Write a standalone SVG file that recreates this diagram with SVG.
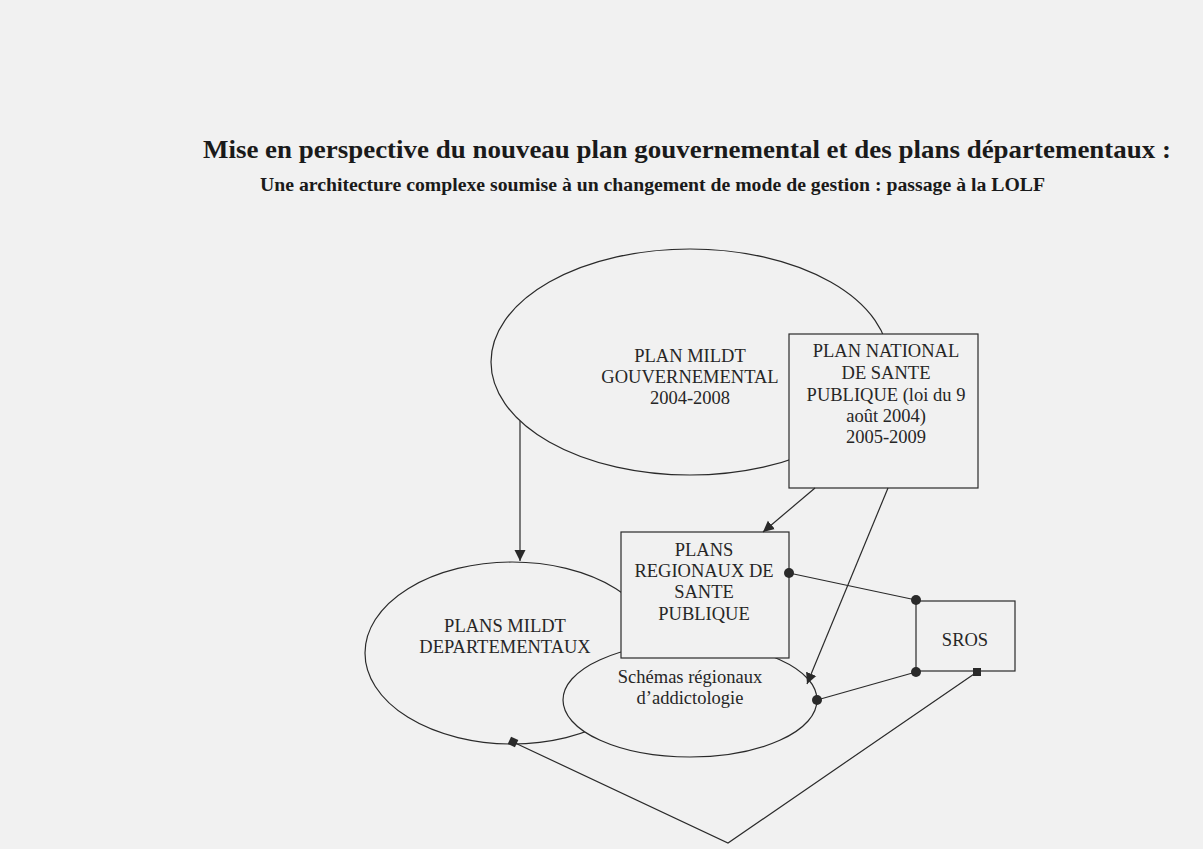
<svg xmlns="http://www.w3.org/2000/svg" width="1203" height="849" viewBox="0 0 1203 849">
<style>
.bg{fill:#f1f1f1}
.shape{fill:#f1f1f1;stroke:#2a2a2a;stroke-width:1.2}
.lbl{font-family:"Liberation Serif","Times New Roman",serif;font-size:18.5px;fill:#262626;text-anchor:middle}
.title{font-family:"Liberation Serif","Times New Roman",serif;font-weight:bold;fill:#1a1a1a}
.edge{fill:none;stroke:#2a2a2a;stroke-width:1.2}
.dot{fill:#2a2a2a}
</style>
<defs>
<marker id="arr" markerWidth="12" markerHeight="12" refX="11" refY="6" orient="auto" markerUnits="userSpaceOnUse">
<path d="M0,0.5 L11,6 L0,11.5 Z" fill="#2a2a2a"/>
</marker>
</defs>
<rect class="bg" x="0" y="0" width="1203" height="849"/>
<text class="title" x="203" y="158" font-size="26" textLength="968" lengthAdjust="spacingAndGlyphs">Mise en perspective du nouveau plan gouvernemental et des plans départementaux :</text>
<text class="title" x="260" y="191" font-size="18" textLength="785" lengthAdjust="spacingAndGlyphs">Une architecture complexe soumise à un changement de mode de gestion : passage à la LOLF</text>

<g id="plan-mildt-gouv">
<ellipse class="shape" cx="690" cy="362" rx="199" ry="113"/>
<text class="lbl" x="690" y="362">PLAN MILDT</text>
<text class="lbl" x="690" y="383">GOUVERNEMENTAL</text>
<text class="lbl" x="690" y="404">2004-2008</text>
</g>
<g id="plan-national">
<rect class="shape" x="789" y="334" width="189" height="154"/>
<text class="lbl" x="886" y="357">PLAN NATIONAL</text>
<text class="lbl" x="886" y="379">DE SANTE</text>
<text class="lbl" x="886" y="401">PUBLIQUE (loi du 9</text>
<text class="lbl" x="886" y="422">août 2004)</text>
<text class="lbl" x="886" y="443">2005-2009</text>
</g>
<g id="plans-mildt-dep">
<ellipse class="shape" cx="512" cy="653" rx="147" ry="91"/>
<text class="lbl" x="505" y="632">PLANS MILDT</text>
<text class="lbl" x="505" y="653">DEPARTEMENTAUX</text>
</g>
<g id="schemas">
<ellipse class="shape" cx="690" cy="700" rx="127" ry="57"/>
<text class="lbl" x="690" y="683">Schémas régionaux</text>
<text class="lbl" x="690" y="704">d’addictologie</text>
</g>
<g id="plans-regionaux">
<rect class="shape" x="621" y="532" width="168" height="126"/>
<text class="lbl" x="704" y="556">PLANS</text>
<text class="lbl" x="704" y="577">REGIONAUX DE</text>
<text class="lbl" x="704" y="598">SANTE</text>
<text class="lbl" x="704" y="620">PUBLIQUE</text>
</g>
<g id="sros">
<rect class="shape" x="916" y="601" width="99" height="70"/>
<text class="lbl" x="965" y="646">SROS</text>
</g>

<g id="connectors">
<line class="edge" x1="520" y1="421" x2="520" y2="561" marker-end="url(#arr)"/>
<line class="edge" x1="815" y1="488" x2="763" y2="532" marker-end="url(#arr)"/>
<line class="edge" x1="888" y1="488" x2="807" y2="684" marker-end="url(#arr)"/>
<line class="edge" x1="789" y1="573" x2="916" y2="600"/>
<line class="edge" x1="916" y1="672" x2="817" y2="700"/>
<polyline class="edge" points="513,742 728,843 977,672"/>
<circle class="dot" cx="789" cy="573" r="5"/>
<circle class="dot" cx="916" cy="600" r="5"/>
<circle class="dot" cx="916" cy="672" r="5"/>
<circle class="dot" cx="817" cy="700" r="5"/>
<rect class="dot" x="509" y="738" width="8" height="8" transform="rotate(25 513 742)"/>
<rect class="dot" x="973" y="668" width="8" height="8"/>
</g>
</svg>
